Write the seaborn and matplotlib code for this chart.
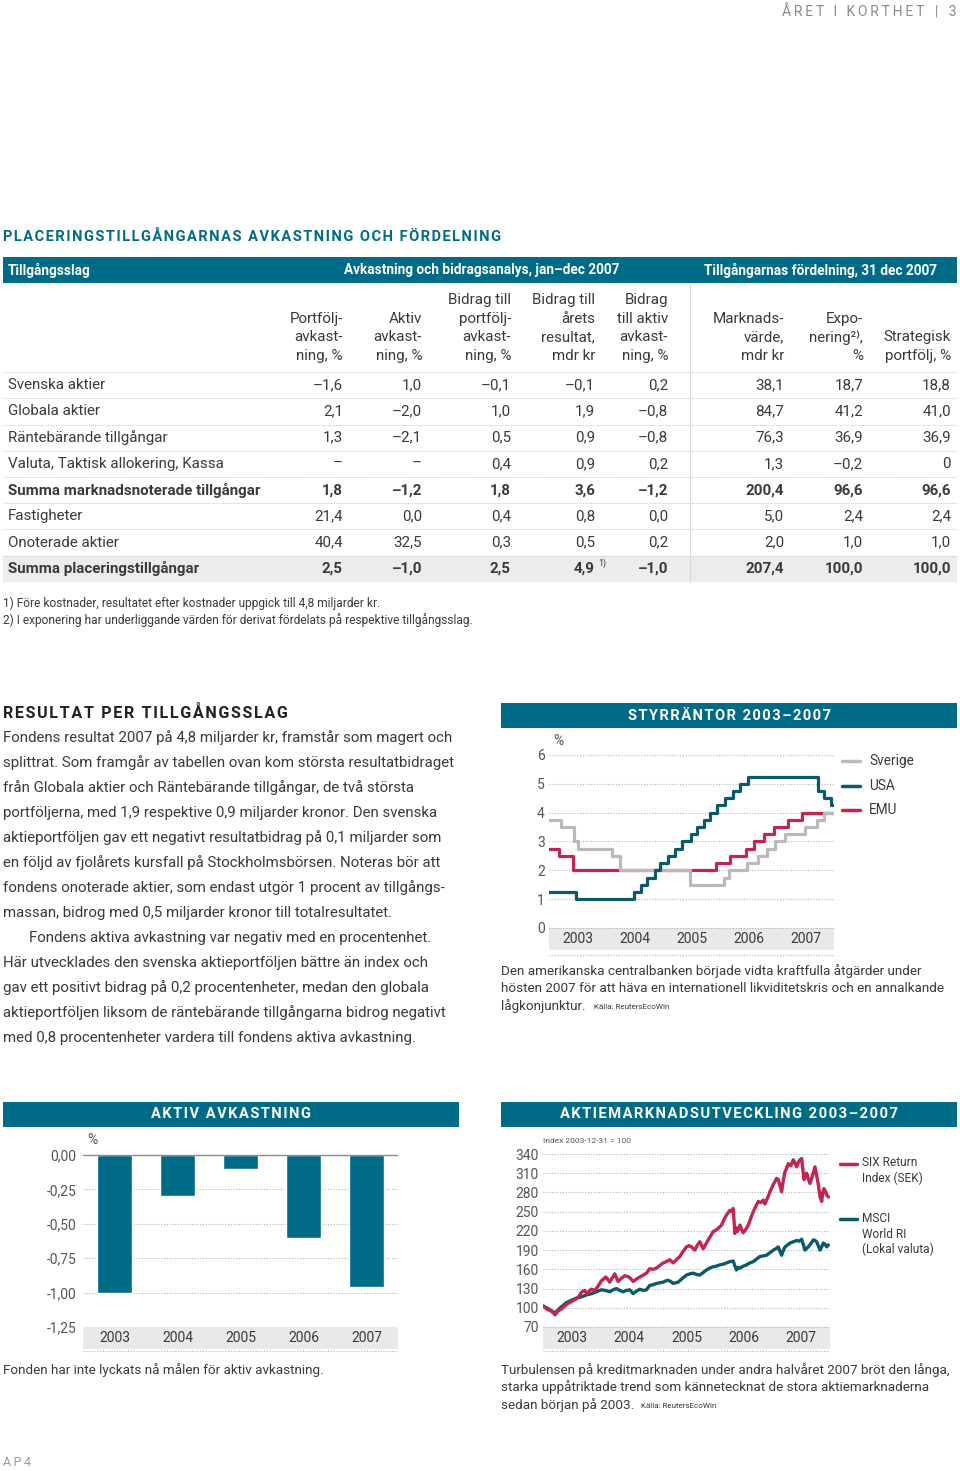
import numpy as np
import pandas as pd
import matplotlib
matplotlib.use("Agg")
import matplotlib.pyplot as plt
from matplotlib.patches import Rectangle
from matplotlib.lines import Line2D
import seaborn as sns

# ---------------- table data ----------------
row_labels = ["Svenska aktier", "Globala aktier", "Räntebärande tillgångar",
              "Valuta, Taktisk allokering, Kassa", "Summa marknadsnoterade tillgångar",
              "Fastigheter", "Onoterade aktier", "Summa placeringstillgångar"]
bold_rows = [4, 7]
portf_avk = [-1.6, 2.1, 1.3, None, 1.8, 21.4, 40.4, 2.5]
aktiv_avk = [1.0, -2.0, -2.1, None, -1.2, 0.0, 32.5, -1.0]
bidrag_portf = [-0.1, 1.0, 0.5, 0.4, 1.8, 0.4, 0.3, 2.5]
bidrag_res = [-0.1, 1.9, 0.9, 0.9, 3.6, 0.8, 0.5, 4.9]
bidrag_aktiv = [0.2, -0.8, -0.8, 0.2, -1.2, 0.0, 0.2, -1.0]
marknadsvarde = [38.1, 84.7, 76.3, 1.3, 200.4, 5.0, 2.0, 207.4]
exponering = [18.7, 41.2, 36.9, -0.2, 96.6, 2.4, 1.0, 100.0]
strategisk = [18.8, 41.0, 36.9, 0, 96.6, 2.4, 1.0, 100.0]

col_heads = [["Portfölj-", "avkast-", "ning, %"],
             ["Aktiv", "avkast-", "ning, %"],
             ["Bidrag till", "portfölj-", "avkast-", "ning, %"],
             ["Bidrag till", "årets", "resultat,", "mdr kr"],
             ["Bidrag", "till aktiv", "avkast-", "ning, %"],
             ["Marknads-", "värde,", "mdr kr"],
             ["Expo-", "nering²⁾,", "%"],
             ["Strategisk", "portfölj, %"]]

# ---------------- chart data ----------------
# policy rates (change dates)
sverige_dates = ["2003-01-01", "2003-03-19", "2003-06-09", "2003-07-07", "2004-02-09",
                 "2004-04-02", "2005-06-22", "2006-01-25", "2006-03-01", "2006-06-21",
                 "2006-08-30", "2006-10-30", "2006-12-20", "2007-02-21", "2007-06-27",
                 "2007-09-12", "2007-10-31", "2007-12-28"]
sverige_rate = [3.75, 3.50, 3.00, 2.75, 2.50, 2.00, 1.50, 1.75, 2.00, 2.25,
                2.50, 2.75, 3.00, 3.25, 3.50, 3.75, 4.00, 4.00]
usa_dates = ["2003-01-01", "2003-06-25", "2004-06-30", "2004-08-10", "2004-09-21",
             "2004-11-10", "2004-12-14", "2005-02-02", "2005-03-22", "2005-05-03",
             "2005-06-30", "2005-08-09", "2005-09-20", "2005-11-01", "2005-12-13",
             "2006-01-31", "2006-03-28", "2006-05-10", "2006-06-29", "2007-09-18",
             "2007-10-31", "2007-12-11", "2007-12-28"]
usa_rate = [1.25, 1.00, 1.25, 1.50, 1.75, 2.00, 2.25, 2.50, 2.75, 3.00, 3.25, 3.50,
            3.75, 4.00, 4.25, 4.50, 4.75, 5.00, 5.25, 4.75, 4.50, 4.25, 4.25]
emu_dates = ["2003-01-01", "2003-03-07", "2003-06-06", "2005-12-06", "2006-03-08",
             "2006-06-15", "2006-08-09", "2006-10-11", "2006-12-13", "2007-03-14",
             "2007-06-13", "2007-12-28"]
emu_rate = [2.75, 2.50, 2.00, 2.25, 2.50, 2.75, 3.00, 3.25, 3.50, 3.75, 4.00, 4.00]

aktiv_years = ["2003", "2004", "2005", "2006", "2007"]
aktiv_values = [-1.00, -0.30, -0.10, -0.60, -0.96]

six_t = [2003.000, 2003.040, 2003.081, 2003.120, 2003.169, 2003.209, 2003.235, 2003.262,
         2003.300, 2003.337, 2003.380, 2003.419, 2003.460, 2003.500, 2003.540, 2003.581,
         2003.625, 2003.669, 2003.700, 2003.727, 2003.767, 2003.805, 2003.843, 2003.890,
         2003.930, 2003.975, 2004.017, 2004.055, 2004.093, 2004.130, 2004.163, 2004.210,
         2004.250, 2004.280, 2004.308, 2004.365, 2004.424, 2004.470, 2004.512, 2004.570,
         2004.630, 2004.686, 2004.745, 2004.802, 2004.860, 2004.920, 2004.977, 2005.035,
         2005.093, 2005.150, 2005.209, 2005.267, 2005.325, 2005.384, 2005.440, 2005.500,
         2005.545, 2005.587, 2005.645, 2005.690, 2005.733, 2005.791, 2005.835, 2005.878,
         2005.920, 2005.965, 2006.010, 2006.052, 2006.110, 2006.155, 2006.198, 2006.256,
         2006.290, 2006.314, 2006.343, 2006.365, 2006.384, 2006.410, 2006.430, 2006.460,
         2006.488, 2006.530, 2006.576, 2006.620, 2006.663, 2006.705, 2006.750, 2006.795,
         2006.837, 2006.865, 2006.895, 2006.925, 2006.953, 2007.000, 2007.041, 2007.070,
         2007.099, 2007.130, 2007.157, 2007.185, 2007.215, 2007.245, 2007.273, 2007.320,
         2007.360, 2007.390, 2007.419, 2007.450, 2007.477, 2007.506, 2007.527, 2007.547,
         2007.570, 2007.593, 2007.620, 2007.651, 2007.695, 2007.738, 2007.767, 2007.800,
         2007.826, 2007.855, 2007.875, 2007.895, 2007.920, 2007.942, 2007.971]
six_val = [103, 100, 97, 96, 93, 89, 92, 95, 97, 99, 103, 106, 108, 110, 112, 114,
           118, 124, 126, 127, 122, 126, 129, 127, 130, 136, 142, 145, 148, 144, 140, 147,
           153, 147, 141, 146, 150, 149, 147, 141, 145, 148, 151, 154, 161, 160, 162, 166,
           170, 172, 175, 170, 175, 180, 188, 195, 197, 195, 190, 198, 203, 192, 199, 206,
           212, 219, 221, 224, 229, 238, 245, 252, 250, 255, 216, 225, 219, 224, 229, 222,
           217, 222, 229, 240, 250, 258, 266, 264, 268, 262, 268, 274, 281, 290, 297, 302,
           300, 290, 281, 298, 312, 318, 325, 322, 331, 326, 320, 327, 331, 333, 316, 300,
           305, 310, 302, 294, 306, 320, 307, 290, 273, 266, 280, 286, 282, 276, 273]
msci_t = [2003.000, 2003.100, 2003.209, 2003.300, 2003.407, 2003.500, 2003.581, 2003.670,
          2003.756, 2003.845, 2003.930, 2004.017, 2004.090, 2004.163, 2004.220, 2004.279,
          2004.340, 2004.395, 2004.450, 2004.512, 2004.570, 2004.630, 2004.686, 2004.745,
          2004.802, 2004.860, 2004.920, 2004.977, 2005.035, 2005.093, 2005.140, 2005.180,
          2005.225, 2005.267, 2005.310, 2005.355, 2005.430, 2005.500, 2005.560, 2005.616,
          2005.675, 2005.733, 2005.790, 2005.849, 2005.905, 2005.965, 2006.020, 2006.081,
          2006.140, 2006.198, 2006.256, 2006.314, 2006.340, 2006.372, 2006.400, 2006.430,
          2006.490, 2006.547, 2006.605, 2006.663, 2006.720, 2006.779, 2006.840, 2006.895,
          2006.955, 2007.012, 2007.055, 2007.099, 2007.130, 2007.157, 2007.185, 2007.215,
          2007.260, 2007.302, 2007.360, 2007.419, 2007.465, 2007.506, 2007.535, 2007.564,
          2007.595, 2007.622, 2007.665, 2007.709, 2007.740, 2007.767, 2007.800, 2007.826,
          2007.855, 2007.884, 2007.915, 2007.942, 2007.971]
msci_val = [103, 98, 92, 100, 108, 112, 115, 117, 120, 122, 125, 128, 127, 125, 128, 130,
            127, 125, 127, 128, 122, 126, 129, 127, 128, 135, 136, 138, 139, 140, 142, 143,
            141, 138, 139, 140, 146, 151, 153, 154, 152, 151, 155, 159, 162, 164, 165, 167,
            168, 170, 172, 173, 166, 159, 163, 162, 165, 167, 170, 172, 176, 180, 181, 182,
            186, 190, 192, 195, 188, 182, 189, 195, 198, 201, 203, 205, 204, 207, 199, 190,
            193, 195, 200, 206, 205, 203, 196, 190, 195, 201, 199, 195, 198]

body_lines = [
    "Fondens resultat 2007 på 4,8 miljarder kr, framstår som magert och",
    "splittrat. Som framgår av tabellen ovan kom största resultatbidraget",
    "från Globala aktier och Räntebärande tillgångar, de två största",
    "portföljerna, med 1,9 respektive 0,9 miljarder kronor. Den svenska",
    "aktieportföljen gav ett negativt resultatbidrag på 0,1 miljarder som",
    "en följd av fjolårets kursfall på Stockholmsbörsen. Noteras bör att",
    "fondens onoterade aktier, som endast utgör 1 procent av tillgångs-",
    "massan, bidrog med 0,5 miljarder kronor till totalresultatet.",
    "Fondens aktiva avkastning var negativ med en procentenhet.",
    "Här utvecklades den svenska aktieportföljen bättre än index och",
    "gav ett positivt bidrag på 0,2 procentenheter, medan den globala",
    "aktieportföljen liksom de räntebärande tillgångarna bidrog negativt",
    "med 0,8 procentenheter vardera till fondens aktiva avkastning.",
]

# ---------------- style ----------------
TEAL = "#006b87"
DARKTEAL = "#0b5a6b"
RED = "#c0264f"
GREY = "#b8bbbe"
TXT = "#3a3a3a"
BAND = "#e9e9e9"
GRID = "#b4b4b4"
FONT = ["Roboto", "DejaVu Sans"]

sns.set_theme(style="white")
plt.rcParams["font.family"] = FONT
plt.rcParams["text.color"] = TXT

W, H = 960, 1471
fig = plt.figure(figsize=(W / 100, H / 100), dpi=100)


def ftext(x, y, s, **kw):
    kw.setdefault("va", "center")
    kw.setdefault("color", TXT)
    return fig.text(x / W, 1 - y / H, s, **kw)


def fbox(x0, y0, x1, y1, color):
    fig.add_artist(Rectangle((x0 / W, 1 - y1 / H), (x1 - x0) / W, (y1 - y0) / H,
                             transform=fig.transFigure, color=color, lw=0))


def fline(x0, y0, x1, y1, **kw):
    fig.add_artist(Line2D([x0 / W, x1 / W], [1 - y0 / H, 1 - y1 / H],
                          transform=fig.transFigure, **kw))


def px_axes(x0, y0, x1, y1):
    return fig.add_axes([x0 / W, 1 - y1 / H, (x1 - x0) / W, (y1 - y0) / H])


def spaced(s, sep="\u200a"):
    return sep.join(s)


def fmt(v):
    if v is None:
        return "–"
    if isinstance(v, int):
        return str(v)
    return f"{v:.1f}".replace(".", ",").replace("-", "–")


def dec_year(dates):
    d = pd.to_datetime(dates)
    return np.asarray(d.year + (d.dayofyear - 1) / 365.25)


def dotted_grid(ax, vals, x0, x1):
    ax.hlines(vals, x0, x1, colors=GRID, lw=0.8, linestyles=(0, (1, 1.5)), zorder=0.5)


def clean(ax):
    ax.set_xticks([])
    ax.set_xlabel("")
    ax.set_ylabel("")
    for s in ax.spines.values():
        s.set_visible(False)
    ax.patch.set_alpha(0)


# ---------------- page header ----------------
ftext(957, 12, spaced("ÅRET I KORTHET", "\u2009") + "   |   3", ha="right",
      color="#8a8a8a", fontsize=10)

# ---------------- table ----------------
ftext(3, 237, spaced("PLACERINGSTILLGÅNGARNAS AVKASTNING OCH FÖRDELNING"),
      color=TEAL, fontsize=10.5, fontweight="bold")
fbox(3, 257, 957, 283, TEAL)
ftext(8, 270, "Tillgångsslag", color="white", fontsize=9.8, fontweight="bold")
ftext(619, 270, "Avkastning och bidragsanalys, jan–dec 2007", color="white", fontsize=9.8,
      fontweight="bold", ha="right")
ftext(937, 270, "Tillgångarnas fördelning, 31 dec 2007", color="white", fontsize=9.8,
      fontweight="bold", ha="right")

col_right = [343, 422, 511, 595, 668, 784, 863, 951]
for xr, head in zip(col_right, col_heads):
    for k, line in enumerate(reversed(head)):
        ftext(xr, 356 - k * 18.7, line, ha="right", fontsize=10.9)
fline(690, 283, 690, 582, color="#d8d8d8", lw=0.8)

ax_t = px_axes(0, 372, 960, 582)
ax_t.set_xlim(0, 960)
ax_t.set_ylim(len(row_labels), 0)
ax_t.axis("off")
ax_t.fill_between([3, 957], 7, 8, color="#ececec", lw=0, zorder=0)
ax_t.hlines(range(0, len(row_labels) + 1), 3, 957, colors="#c9c9c9", lw=0.7,
            linestyles=(0, (1, 1)))
columns = [portf_avk, aktiv_avk, bidrag_portf, bidrag_res, bidrag_aktiv,
           marknadsvarde, exponering, strategisk]
for i, label in enumerate(row_labels):
    w = "bold" if i in bold_rows else "normal"
    ax_t.text(8, i + 0.5, label, va="center", fontsize=10.9, fontweight=w)
    for xr, col in zip(col_right, columns):
        ax_t.text(xr, i + 0.5, fmt(col[i]), va="center", ha="right", fontsize=10.9,
                  fontweight=w)
ax_t.text(598, 7.3, "1)", va="center", ha="left", fontsize=6.5)

ftext(3, 603, "1) Före kostnader, resultatet efter kostnader uppgick till 4,8 miljarder kr.",
      fontsize=8.6)
ftext(3, 620, "2) I exponering har underliggande värden för derivat fördelats på respektive "
      "tillgångsslag.", fontsize=8.6)

# ---------------- body text ----------------
ftext(3, 713, spaced("RESULTAT PER TILLGÅNGSSLAG"), color="#222222", fontsize=11.6,
      fontweight="bold")
for k, line in enumerate(body_lines):
    ftext(29 if k == 8 else 3, 738 + 25 * k, line, fontsize=10.8)

# ---------------- styrräntor ----------------
fbox(501, 703, 957, 728, TEAL)
ftext(729, 716, spaced("STYRRÄNTOR 2003–2007"), color="white", fontsize=10.5,
      fontweight="bold", ha="center")
ppu = 28.83
ax_r = px_axes(549, 755, 834, 928 + ppu * 1.0)
sns.lineplot(x=dec_year(emu_dates), y=emu_rate, drawstyle="steps-post", color=RED,
             lw=2.3, ax=ax_r)
sns.lineplot(x=dec_year(sverige_dates), y=sverige_rate, drawstyle="steps-post",
             color=GREY, lw=2.3, ax=ax_r)
sns.lineplot(x=dec_year(usa_dates), y=usa_rate, drawstyle="steps-post", color=DARKTEAL,
             lw=2.3, ax=ax_r)
ax_r.set_xlim(2003, 2008)
ax_r.set_ylim(-1.0, 6)
ax_r.axhspan(-0.76, 0, color=BAND, lw=0, zorder=0)
dotted_grid(ax_r, range(0, 7), 2003, 2008)
dotted_grid(ax_r, [-0.92], 2003, 2008)
for j, yr in enumerate(aktiv_years):
    ax_r.text(2003.5 + j, -0.38, yr, ha="center", va="center", fontsize=10, color=TXT)
ax_r.set_yticks(range(0, 7))
ax_r.set_yticklabels([str(v) for v in range(0, 7)])
ax_r.tick_params(axis="y", length=0, pad=3, labelsize=10, labelcolor="#555555")
clean(ax_r)
ftext(553, 741, "%", fontsize=10, color="#555555")
for yy, name, c in [(761, "Sverige", GREY), (786, "USA", DARKTEAL), (810, "EMU", RED)]:
    fline(842, yy, 860, yy, color=c, lw=2.5)
    ftext(869, yy, name, fontsize=9.8)
ftext(501, 971, "Den amerikanska centralbanken började vidta kraftfulla åtgärder under",
      fontsize=9.7)
ftext(501, 989, "hösten 2007 för att häva en internationell likviditetskris och en annalkande",
      fontsize=9.7)
ftext(501, 1006, "lågkonjunktur.", fontsize=9.7)
ftext(594, 1007, "Källa: ReutersEcoWin", fontsize=5.8)

# ---------------- aktiv avkastning ----------------
fbox(3, 1102, 459, 1127, TEAL)
ftext(231, 1114, spaced("AKTIV AVKASTNING"), color="white", fontsize=10.5,
      fontweight="bold", ha="center")
bpu = 137.6
ax_a = px_axes(83, 1155 - 0.02 * bpu, 398, 1155 + 1.45 * bpu)
sns.barplot(x=aktiv_years, y=aktiv_values, color=TEAL, saturation=1, width=0.56, ax=ax_a,
            zorder=2)
ax_a.set_xlim(-0.5, 4.5)
ax_a.set_ylim(-1.45, 0.02)
ax_a.axhspan(-1.41, -1.25, color=BAND, lw=0, zorder=0)
dotted_grid(ax_a, [-0.25, -0.5, -0.75, -1.0, -1.425], -0.5, 4.5)
ax_a.axhline(0, color="#8c8c8c", lw=1.0, zorder=3)
for j, yr in enumerate(aktiv_years):
    ax_a.text(j, -1.33, yr, ha="center", va="center", fontsize=10, color=TXT)
aticks = [0, -0.25, -0.5, -0.75, -1.0, -1.25]
ax_a.set_yticks(aticks)
ax_a.set_yticklabels([f"{v:.2f}".replace(".", ",") for v in aticks])
ax_a.tick_params(axis="y", length=0, pad=5, labelsize=10, labelcolor="#555555")
clean(ax_a)
ftext(87, 1140, "%", fontsize=10, color="#555555")
ftext(3, 1370, "Fonden har inte lyckats nå målen för aktiv avkastning.", fontsize=9.7)

# ---------------- aktiemarknadsutveckling ----------------
fbox(501, 1102, 957, 1127, TEAL)
ftext(729, 1114, spaced("AKTIEMARKNADSUTVECKLING 2003–2007"), color="white", fontsize=10.6,
      fontweight="bold", ha="center")
spu = 173 / 270
ax_s = px_axes(543, 1154 - 5 * spu, 830, 1327 + 40 * spu)
sns.lineplot(x=msci_t, y=msci_val, color=DARKTEAL, lw=2.4, ax=ax_s)
sns.lineplot(x=six_t, y=six_val, color=RED, lw=2.4, ax=ax_s)
ax_s.set_xlim(2003, 2008)
ax_s.set_ylim(30, 345)
ax_s.axhspan(35.7, 70, color=BAND, lw=0, zorder=0)
sticks = list(range(70, 341, 30))
dotted_grid(ax_s, sticks + [33], 2003, 2008)
for j, yr in enumerate(aktiv_years):
    ax_s.text(2003.5 + j, 53, yr, ha="center", va="center", fontsize=10, color=TXT)
ax_s.set_yticks(sticks)
ax_s.set_yticklabels([str(v) for v in sticks])
ax_s.tick_params(axis="y", length=0, pad=3, labelsize=10, labelcolor="#555555")
clean(ax_s)
ftext(543, 1141, "Index 2003-12-31 = 100", fontsize=6, color="#555555")
fline(840, 1164, 857, 1164, color=RED, lw=2.5)
ftext(862, 1163, "SIX Return", fontsize=8.6)
ftext(862, 1178, "Index (SEK)", fontsize=8.6)
fline(840, 1219, 857, 1219, color=DARKTEAL, lw=2.5)
ftext(862, 1219, "MSCI", fontsize=8.6)
ftext(862, 1234, "World RI", fontsize=8.6)
ftext(862, 1249, "(Lokal valuta)", fontsize=8.6)
ftext(501, 1370, "Turbulensen på kreditmarknaden under andra halvåret 2007 bröt den långa,",
      fontsize=9.7)
ftext(501, 1387, "starka uppåtriktade trend som kännetecknat de stora aktiemarknaderna",
      fontsize=9.7)
ftext(501, 1405, "sedan början på 2003.", fontsize=9.7)
ftext(641, 1406, "Källa: ReutersEcoWin", fontsize=5.8)

ftext(3, 1463, spaced("AP4", "\u2009"), fontsize=9, color="#9a9a9a")

fig.savefig("out.png", dpi=100)
